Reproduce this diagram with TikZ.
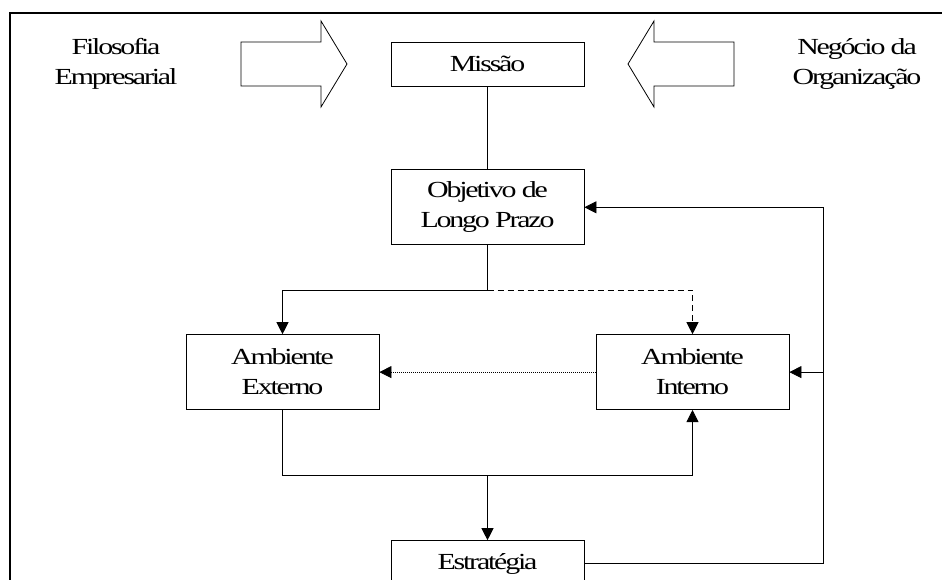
\documentclass[tikz,border=0pt]{standalone}
\usepackage{fontspec}
\newfontfamily\figfont{Liberation Serif}[FakeStretch=1.3,LetterSpace=-9.5]
\usetikzlibrary{arrows.meta}
\usetikzlibrary{positioning}

\begin{document}
\begin{tikzpicture}[%
        x=1pt, y=-1pt,
        every node/.style={align=center, inner sep=0pt, font=\figfont\fontsize{23}{30}\selectfont},
        box/.style={rectangle, draw, minimum width=193pt, minimum height=75pt},
        line width=0.8pt,
        node distance=89pt, >={Triangle[length=12pt,width=12pt]}
      ]
      \useasboundingbox (0,0) rectangle (942,580);
      \draw [line width=1.6pt] (10,13) rectangle (960,600);
      \node [] (0) [box, minimum height=44pt] at (487.5,64) {Missão};
      \node [] (1) [box, below=83pt of 0] {Objetivo de\\Longo Prazo};
      \node [] (2) [box, below=of 1, xshift=-205pt] {Ambiente\\Externo};
      \node [] (3) [box, below=of 1, xshift=205pt] {Ambiente\\Interno};
      \node [] (4) [box, minimum height=46pt, below=295pt of 1] {Estratégia};
      \node [] (5) at (116,64) {Filosofia\\Empresarial};
      \node [] (6) at (857,64) {Negócio da\\Organização};
      % setas grandes
      \draw [line join=miter] (241,42) -- (321,42) -- (321,21) -- (347,64) -- (321,107) -- (321,86) -- (241,86) -- cycle;
      \draw [line join=miter] (734,42) -- (654,42) -- (654,21) -- (628,64) -- (654,107) -- (654,86) -- (734,86) -- cycle;
      \coordinate [below=45pt of 1] (a);
      \coordinate [below=65pt of 2] (b);
      \coordinate [right=239pt of 4] (d);
      \path [draw] (0) -- (1)
      (1.south) -- (a);
      \draw [->] (a) -| (2.north);
      \draw [->, dash pattern=on 6pt off 4pt] (a) -| (3.north);
      \draw [->, dash pattern=on 1pt off 1pt] (3.west) -- (2.east);
      \draw [->] (2.south) -- (b) -| (3.south);
      \draw [->] (b -| 4.north) -- (4.north);
      \draw [->] (4.east) -- (d) |- (1.east);
      \draw [->] (d |- 3.east) -- (3.east);
     \end{tikzpicture}
\end{document}
